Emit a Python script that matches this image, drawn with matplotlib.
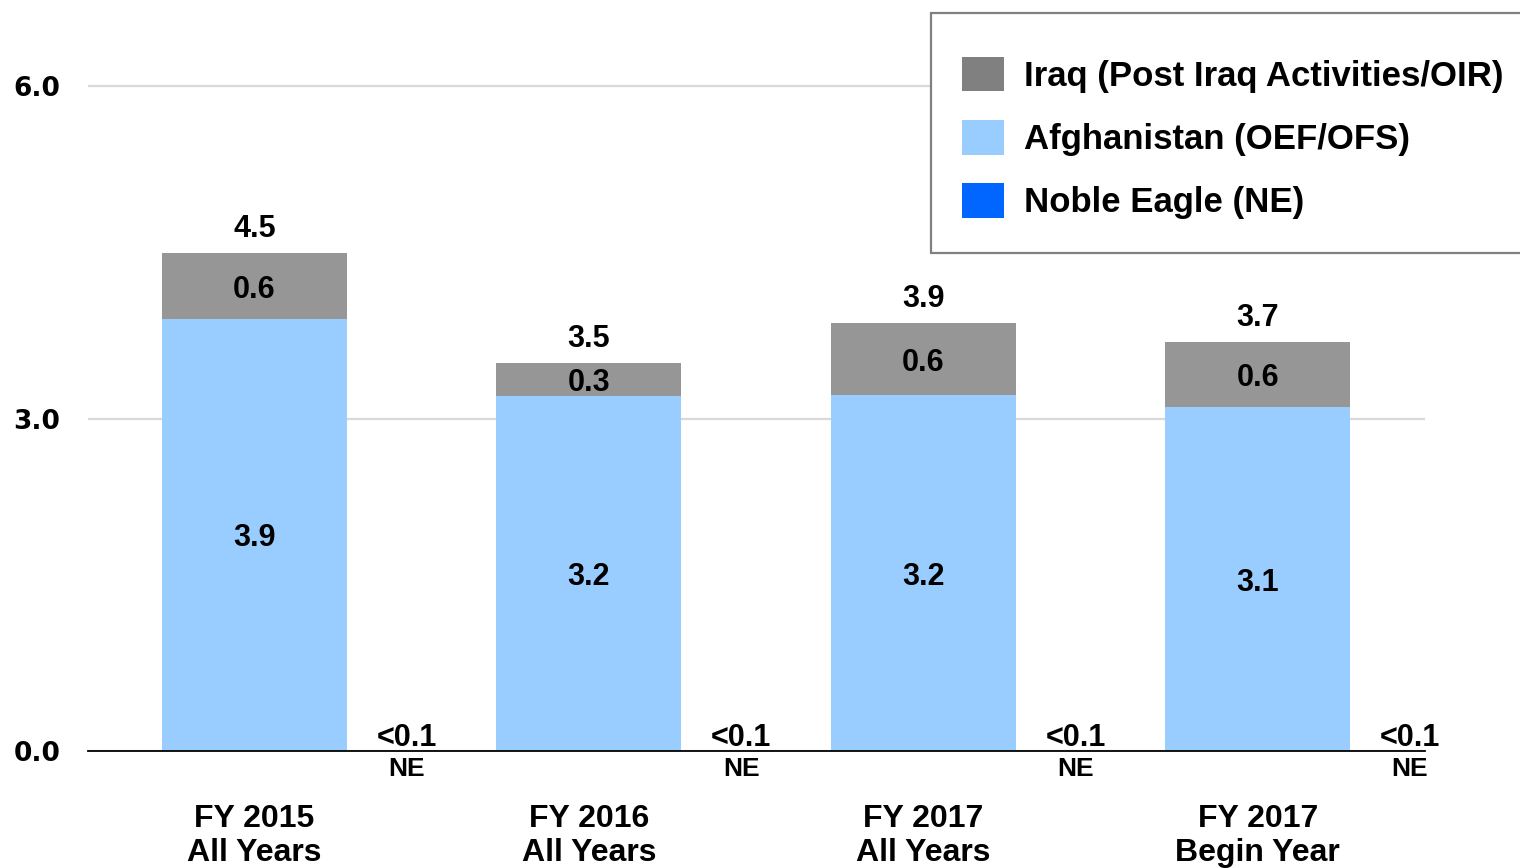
import matplotlib
matplotlib.use("Agg")
import matplotlib.pyplot as plt
from matplotlib.patches import Patch, Rectangle

# ---- data ----
categories = ["FY 2015\nAll Years", "FY 2016\nAll Years", "FY 2017\nAll Years", "FY 2017\nBegin Year"]
afghanistan = [3.90, 3.20, 3.21, 3.10]
iraq = [0.59, 0.30, 0.65, 0.59]
noble_eagle = [0.004, 0.004, 0.004, 0.004]
afghanistan_labels = ["3.9", "3.2", "3.2", "3.1"]
iraq_labels = ["0.6", "0.3", "0.6", "0.6"]
total_labels = ["4.5", "3.5", "3.9", "3.7"]
ne_labels = ["<0.1", "<0.1", "<0.1", "<0.1"]
ne_tick = "NE"
yticks = [0.0, 3.0, 6.0]
series_names = ["Iraq (Post Iraq Activities/OIR)", "Afghanistan (OEF/OFS)", "Noble Eagle (NE)"]

C_IRAQ_BAR = "#969696"
C_IRAQ_LEG = "#808080"
C_AFG = "#99CCFF"
C_NE = "#0066FF"

ARIAL = ["Liberation Sans", "DejaVu Sans"]
W, H = 1520, 868

fig = plt.figure(figsize=(15.2, 8.68), dpi=100)
ax = fig.add_axes([88 / W, (H - 751) / H, (1425 - 88) / W, 0.8427])

x = list(range(len(categories)))
w = 0.553
ne_off = 0.455

ax.bar(x, afghanistan, width=w, color=C_AFG, zorder=2)
ax.bar(x, iraq, width=w, bottom=afghanistan, color=C_IRAQ_BAR, zorder=2)
ne_x = [i + ne_off for i in x]
ax.bar(ne_x, noble_eagle, width=w, color=C_NE, zorder=2)

ax.set_xlim(-0.498, 3.5)
ax.set_ylim(0, 6.6)

# data labels
for i in x:
    a = afghanistan[i]
    q = iraq[i]
    ax.text(i, a / 2, afghanistan_labels[i], ha="center", va="center_baseline",
            fontsize=22, fontweight="bold", family=ARIAL, zorder=3)
    ax.text(i, a + q / 2, iraq_labels[i], ha="center", va="center_baseline",
            fontsize=22, fontweight="bold", family=ARIAL, zorder=3)
    ax.annotate(total_labels[i], (i, a + q), xytext=(0, 20), textcoords="offset points",
                ha="center", va="center_baseline", fontsize=22, fontweight="bold", family=ARIAL)
    ax.annotate(ne_labels[i], (ne_x[i], noble_eagle[i]), xytext=(0, 11.5), textcoords="offset points",
                ha="center", va="center_baseline", fontsize=22, fontweight="bold", family=ARIAL)

# axes styling
for s in ["top", "right", "left"]:
    ax.spines[s].set_visible(False)
ax.spines["bottom"].set_color("black")
ax.spines["bottom"].set_linewidth(1.3)
ax.spines["bottom"].set_zorder(4)

ax.set_yticks(yticks)
ax.set_yticklabels([f"{v:.1f}" for v in yticks], fontsize=19, fontweight="bold", family="DejaVu Sans")
ax.tick_params(axis="y", length=0, pad=20)
ax.yaxis.grid(True, color="#d9d9d9", linewidth=1.6, zorder=0)
ax.set_axisbelow(True)

ax.set_xticks(x)
ax.set_xticklabels(categories, fontsize=23, fontweight="bold", family=ARIAL, linespacing=1.2)
ax.tick_params(axis="x", which="major", length=0, pad=38)
ax.set_xticks(ne_x, minor=True)
ax.set_xticklabels([ne_tick] * len(ne_x), minor=True, fontsize=19, fontweight="bold", family=ARIAL)
ax.tick_params(axis="x", which="minor", length=0, pad=4)

# legend frame
frame = Rectangle((931 / W, 1 - 253 / H), (1535 - 931) / W, (253 - 13) / H,
                  transform=fig.transFigure, facecolor="white", edgecolor="#808080",
                  linewidth=1.6, zorder=5)
fig.add_artist(frame)

handles = [Patch(facecolor=C_IRAQ_LEG), Patch(facecolor=C_AFG), Patch(facecolor=C_NE)]
leg = fig.legend(handles, series_names, loc="upper left",
                 bbox_to_anchor=(962 / W, 1 - 57 / H), bbox_transform=fig.transFigure,
                 prop={"family": ARIAL, "weight": "bold", "size": 25},
                 handlelength=1.2, handleheight=1.15, handletextpad=0.6,
                 labelspacing=0.78, borderpad=0, borderaxespad=0,
                 frameon=False)
leg.set_zorder(6)

fig.savefig("out.png", dpi=100)
